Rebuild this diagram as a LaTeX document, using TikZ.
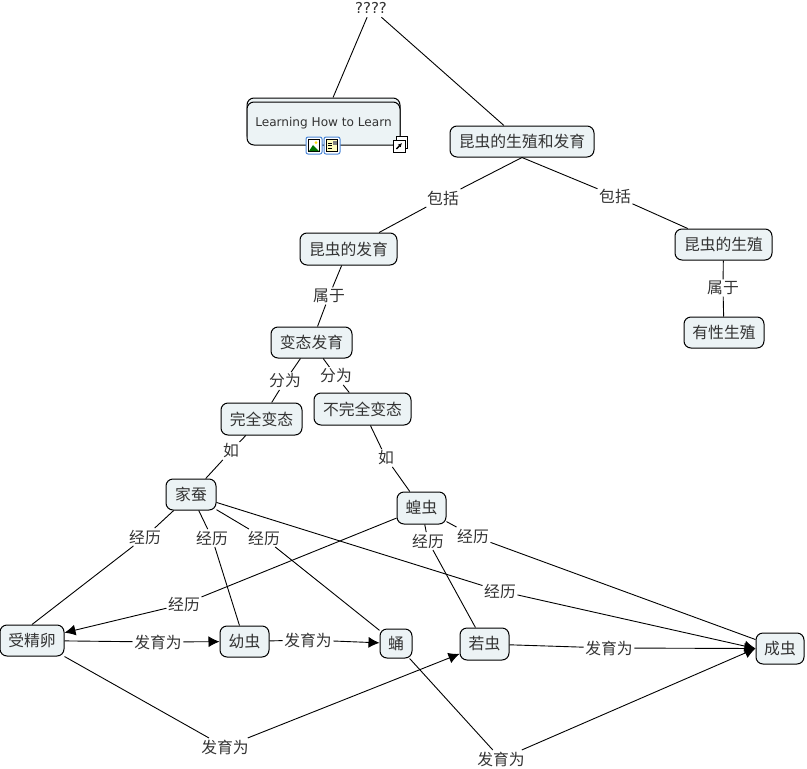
\documentclass[tikz,border=0pt]{standalone}
\usepackage{fontspec}
\setmainfont{Noto Sans CJK SC}
\newfontfamily\latinfont{DejaVu Sans}
\usetikzlibrary{arrows.meta}
\definecolor{boxfill}{HTML}{ECF3F5}
\definecolor{textgray}{HTML}{333333}
\definecolor{iconblue}{HTML}{4A86D8}
\tikzset{
  concept/.style={draw=black,fill=boxfill,rounded corners=7,line width=1,inner sep=0,text=textgray,font=\fontsize{15.8}{17}\selectfont},
  linkword/.style={inner sep=1.5,text=textgray,font=\fontsize{15.8}{17}\selectfont},
  link/.style={draw=black,line width=0.9},
  linkto/.style={link,-{Latex[length=11,width=11]}}
}

\begin{document}
\begin{tikzpicture}[x=1pt,y=-1pt]
\useasboundingbox (0,0) rectangle (807,769);

\newcommand{\mylink}[3]{% depart, mot, arrivee
\draw[link] (#1) -- (#2);
\draw[link] (#2) -- (#3);
}
\newcommand{\mylinkto}[3]{% depart, mot, arrivee avec fleche
\draw[link] (#1) -- (#2);
\draw[linkto] (#2) -- (#3);
}

%root
\node[inner sep=0,minimum width=34,minimum height=18,text=textgray,font=\latinfont\fontsize{15}{16}\selectfont] (root) at (371,8) {????};
%learning how to learn
\node[concept,minimum width=153,minimum height=44] (lhlback) at (323.5,120) {};
\node[concept,minimum width=153,minimum height=43,font=\latinfont\fontsize{12.1}{14}\selectfont] (lhl) at (323.5,123.5) {\raisebox{4pt}{Learning How to Learn}};
%concepts, upper part
\node[concept,minimum width=144,minimum height=31] (topic) at (522,141.5) {昆虫的生殖和发育};
\node[concept,minimum width=97,minimum height=32] (develop) at (348.5,249) {昆虫的发育};
\node[concept,minimum width=97,minimum height=31] (repro) at (723.5,244.5) {昆虫的生殖};
\node[concept,minimum width=80,minimum height=31] (sexual) at (724,332.5) {有性生殖};
\node[concept,minimum width=81,minimum height=31] (meta) at (311.5,342.5) {变态发育};
\node[concept,minimum width=81,minimum height=32] (complete) at (261.5,419) {完全变态};
\node[concept,minimum width=97,minimum height=32] (incomplete) at (362.5,409) {不完全变态};
\node[concept,minimum width=50,minimum height=31] (silkworm) at (191,494.5) {家蚕};
\node[concept,minimum width=49,minimum height=32] (locust) at (421.5,508) {蝗虫};
%concepts, lower row
\node[concept,minimum width=64,minimum height=31] (egg) at (32,640.5) {受精卵};
\node[concept,minimum width=49,minimum height=31] (larva) at (244.5,641.5) {幼虫};
\node[concept,minimum width=32,minimum height=29] (pupa) at (396,643.5) {蛹};
\node[concept,minimum width=49,minimum height=32] (nymph) at (484.5,644) {若虫};
\node[concept,minimum width=48,minimum height=31] (adult) at (780,648.5) {成虫};
%words
\node[linkword] (incl1) at (443,198) {包括};
\node[linkword] (incl2) at (615,196) {包括};
\node[linkword] (belong1) at (329,296) {属于};
\node[linkword] (belong2) at (723,288) {属于};
\node[linkword] (split1) at (285,381) {分为};
\node[linkword] (split2) at (336,376) {分为};
\node[linkword] (such1) at (231,451) {如};
\node[linkword] (such2) at (386,458) {如};
\node[linkword] (pass1) at (145,537) {经历};
\node[linkword] (pass2) at (212,538) {经历};
\node[linkword] (pass3) at (264,538) {经历};
\node[linkword] (pass4) at (500,591) {经历};
\node[linkword] (pass5) at (428,541) {经历};
\node[linkword] (pass6) at (473,536) {经历};
\node[linkword] (pass7) at (184,604) {经历};
\node[linkword] (grow1) at (158,642) {发育为};
\node[linkword] (grow2) at (308,640) {发育为};
\node[linkword] (grow3) at (225,747) {发育为};
\node[linkword] (grow4) at (609,648) {发育为};
\node[linkword] (grow5) at (501,759) {发育为};

%root links
\draw[link] (root) -- (lhlback);
\draw[link] (root) -- (topic);
%upper part
\mylink{topic.south}{incl1}{develop}
\mylink{topic.south}{incl2}{repro}
\mylink{develop}{belong1}{meta}
\mylink{repro}{belong2}{sexual}
\mylink{meta}{split1}{complete}
\mylink{meta}{split2}{incomplete}
\mylink{complete}{such1}{silkworm}
\mylink{incomplete}{such2}{locust}
%silkworm
\mylink{silkworm}{pass1}{egg.north}
\mylink{silkworm}{pass2}{larva}
\mylink{silkworm}{pass3}{pupa}
\mylinkto{silkworm}{pass4}{adult.west}
%locust
\mylink{locust}{pass5}{nymph}
\mylink{locust}{pass6}{adult}
\mylinkto{locust}{pass7}{egg}
%growth
\mylinkto{egg}{grow1}{larva}
\mylinkto{larva}{grow2}{pupa}
\mylinkto{egg.south east}{grow3}{nymph}
\mylinkto{nymph}{grow4}{adult.west}
\mylinkto{pupa}{grow5}{adult.west}

%icons
\draw[iconblue,fill=white,rounded corners=2,line width=1] (306,137) rectangle (322,154);
\draw[black,fill=white,line width=0.7] (308.5,139.5) rectangle (319.5,151.5);
\fill[green!45!black] (309,151) -- (313,145) -- (319,151) -- cycle;
\fill[yellow!80!orange] (316,142.5) circle (1.5);
\draw[iconblue,fill=white,rounded corners=2,line width=1] (324,137) rectangle (340,154);
\draw[black,fill=yellow!25,line width=0.7] (326.5,139.5) rectangle (337.5,151.5);
\foreach \y in {143,145.5,148} {
  \draw[black,line width=0.6] (328,\y) -- (332,\y);
}
\fill[gray] (333,141) rectangle (336.5,145);
%shortcut
\draw[black,fill=white,line width=0.8] (396,136) rectangle (407,148);
\draw[black,fill=white,line width=1] (393.5,140) rectangle (405,152);
\draw[black,line width=1.4,-{Latex[length=4,width=4]}] (396.5,149) -- (402,143);

\end{tikzpicture}
\end{document}
